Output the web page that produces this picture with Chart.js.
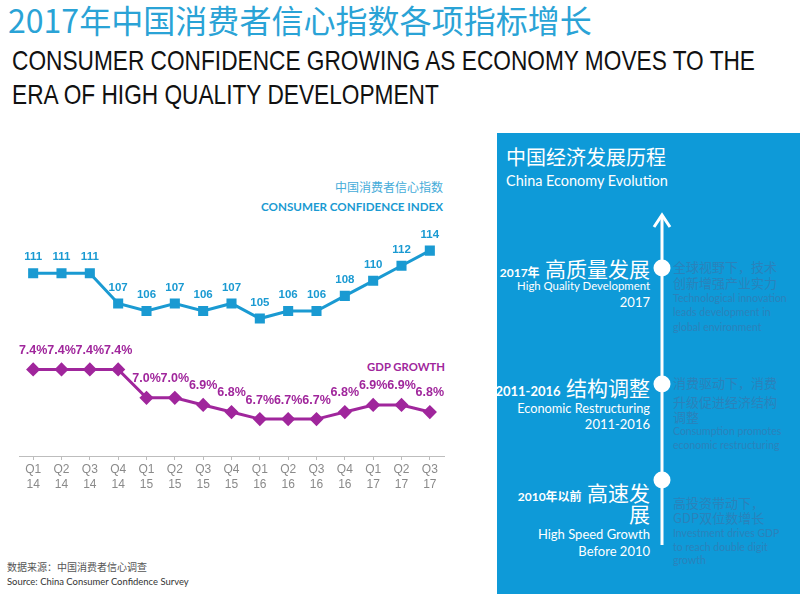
<!DOCTYPE html>
<html>
<head>
<meta charset="utf-8">
<script src="https://cdn.jsdelivr.net/npm/chart.js@4.4.1/dist/chart.umd.min.js"></script>
<style>
  html, body { margin: 0; padding: 0; background: #fff; }
  body { width: 800px; height: 594px; position: relative; overflow: hidden; font-family: Lato, "Noto Sans CJK SC", sans-serif; }
  .t { position: absolute; white-space: nowrap; }
  .cn { font-family: "Noto Sans CJK SC", sans-serif; }
  .en { font-family: "Liberation Sans", Arial, sans-serif; transform-origin: 0 50%; }
  #chartBox { position: absolute; left: 0; top: 150px; width: 460px; height: 350px; }
  #panel { position: absolute; left: 497px; top: 133px; width: 303px; height: 461px; background: #0e9ad8; }
  .w { color: #fff; }
  .faint { color: #2a82bb; }
  .fe { font-size: 10.5px; line-height: 14px; }
</style>
</head>
<body>
<!-- titles -->
<div class="t cn" data-w="584" style="left:8px;top:1px;font-size:30px;line-height:36px;color:#2aa3d6;">2017年中国消费者信心指数各项指标增长</div>
<div class="t en" id="en1" style="left:12px;top:44px;font-size:28px;line-height:34px;color:#111;">CONSUMER CONFIDENCE GROWING AS ECONOMY MOVES TO THE</div>
<div class="t en" id="en2" style="left:12px;top:78px;font-size:28px;line-height:34px;color:#111;">ERA OF HIGH QUALITY DEVELOPMENT</div>

<!-- chart side labels -->
<div class="t cn" style="right:357px;top:179px;font-size:12px;line-height:16px;color:#45acd9;">中国消费者信心指数</div>
<div class="t" data-w="182" style="right:357px;top:199px;font-size:12px;line-height:16px;color:#1a9ad2;font-weight:bold;">CONSUMER CONFIDENCE INDEX</div>
<div class="t" data-w="78" style="right:355px;top:359px;font-size:12px;line-height:16px;color:#a0269c;font-weight:bold;">GDP GROWTH</div>

<div id="chartBox"><canvas id="myChart"></canvas></div>

<!-- source -->
<div class="t cn" style="left:7px;top:560px;font-size:10px;line-height:14px;color:#555;">数据来源：中国消费者信心调查</div>
<div class="t" data-w="182" style="left:7px;top:575px;font-size:10px;line-height:14px;color:#333;">Source: China Consumer Confidence Survey</div>

<!-- right panel -->
<div id="panel">
  <svg width="303" height="461" style="position:absolute;left:0;top:0;">
    <line x1="165" y1="83" x2="165" y2="412" stroke="#fff" stroke-width="3"/>
    <polyline points="157,94 165,82 173,94" fill="none" stroke="#fff" stroke-width="3" stroke-linejoin="miter"/>
    <circle cx="165" cy="135" r="8.5" fill="#fff"/>
    <circle cx="165" cy="251" r="8.5" fill="#fff"/>
    <circle cx="165" cy="347" r="8.5" fill="#fff"/>
  </svg>
</div>
<div class="t cn w" style="left:506px;top:145px;font-size:20px;line-height:24px;">中国经济发展历程</div>
<div class="t w" data-w="162" style="left:506px;top:172px;font-size:14px;line-height:18px;">China Economy Evolution</div>

<div class="t w" style="right:150px;top:254px;font-size:21px;line-height:28px;"><span style="font-size:12px;font-weight:bold;">2017<span class="cn">年</span></span> <span class="cn">高质量发展</span></div>
<div class="t w" data-w="133" style="right:150px;top:278px;font-size:13px;line-height:16px;">High Quality Development</div>
<div class="t w" style="right:150px;top:294px;font-size:13px;line-height:16px;">2017</div>

<div class="t w" style="right:150px;top:373px;font-size:21px;line-height:28px;"><span style="font-size:13px;font-weight:bold;">2011-2016</span> <span class="cn">结构调整</span></div>
<div class="t w" data-w="133" style="right:150px;top:400px;font-size:13px;line-height:16px;">Economic Restructuring</div>
<div class="t w" style="right:150px;top:416px;font-size:13px;line-height:16px;">2011-2016</div>

<div class="t w" style="right:150px;top:478px;font-size:21px;line-height:28px;"><span style="font-size:12px;font-weight:bold;">2010<span class="cn">年以前</span></span> <span class="cn">高速发</span></div>
<div class="t w cn" style="right:150px;top:499px;font-size:21px;line-height:28px;">展</div>
<div class="t w" style="right:150px;top:526px;font-size:13px;line-height:16px;">High Speed Growth</div>
<div class="t w" style="right:150px;top:543px;font-size:13px;line-height:16px;">Before 2010</div>

<div class="t cn faint" style="left:673px;top:258px;font-size:13px;line-height:18px;">全球视野下，技术</div>
<div class="t cn faint" style="left:673px;top:274px;font-size:13px;line-height:18px;">创新增强产业实力</div>
<div class="t faint fe" style="left:673px;top:291px;">Technological innovation</div>
<div class="t faint fe" style="left:673px;top:305px;">leads development in</div>
<div class="t faint fe" style="left:673px;top:320px;">global environment</div>

<div class="t cn faint" style="left:673px;top:374px;font-size:13px;line-height:18px;">消费驱动下，消费</div>
<div class="t cn faint" style="left:673px;top:393px;font-size:13px;line-height:18px;">升级促进经济结构</div>
<div class="t cn faint" style="left:673px;top:408px;font-size:13px;line-height:18px;">调整</div>
<div class="t faint fe" style="left:673px;top:424px;">Consumption promotes</div>
<div class="t faint fe" style="left:673px;top:438px;">economic restructuring</div>

<div class="t cn faint" style="left:673px;top:494px;font-size:13px;line-height:18px;">高投资带动下，</div>
<div class="t cn faint" style="left:673px;top:509px;font-size:13px;line-height:18px;">GDP双位数增长</div>
<div class="t faint fe" style="left:673px;top:526px;">Investment drives GDP</div>
<div class="t faint fe" style="left:673px;top:540px;">to reach double digit</div>
<div class="t faint fe" style="left:673px;top:553px;">growth</div>

<script>
// data
const quarters = [['Q1','14'],['Q2','14'],['Q3','14'],['Q4','14'],['Q1','15'],['Q2','15'],['Q3','15'],['Q4','15'],
                  ['Q1','16'],['Q2','16'],['Q3','16'],['Q4','16'],['Q1','17'],['Q2','17'],['Q3','17']];
const cciValues = [111, 111, 111, 107, 106, 107, 106, 107, 105, 106, 106, 108, 110, 112, 114];
const gdpValues = [7.4, 7.4, 7.4, 7.4, 7.0, 7.0, 6.9, 6.8, 6.7, 6.7, 6.7, 6.8, 6.9, 6.9, 6.8];

// fit some texts to the width they have in the picture
document.querySelectorAll('[data-w]').forEach(el => {
    const w = el.getBoundingClientRect().width;
    const fs = parseFloat(getComputedStyle(el).fontSize);
    el.style.fontSize = (fs * parseFloat(el.dataset.w) / w) + 'px';
});
// the english title is a condensed face, so squeeze it sideways
const en1 = document.getElementById('en1');
const sx = 743 / en1.getBoundingClientRect().width;
en1.style.transform = 'scaleX(' + sx + ')';
document.getElementById('en2').style.transform = 'scaleX(' + sx + ')';

// draws the value above every point
const valueLabels = {
    id: 'valueLabels',
    afterDatasetsDraw(chart) {
        const ctx = chart.ctx;
        chart.data.datasets.forEach((ds, i) => {
            const meta = chart.getDatasetMeta(i);
            ctx.save();
            ctx.font = ds.labelFont;
            ctx.fillStyle = ds.borderColor;
            ctx.textAlign = 'center';
            ctx.textBaseline = 'middle';
            meta.data.forEach((pt, j) => {
                ctx.fillText(ds.fmt(ds.data[j]), pt.x, pt.y - ds.labelGap);
            });
            ctx.restore();
        });
    }
};

const ctx = document.getElementById('myChart');

new Chart(ctx, {
    type: 'line',
    data: {
        labels: quarters,
        datasets: [{
            label: 'Consumer Confidence Index',
            data: cciValues,
            yAxisID: 'y',
            borderColor: '#1a9ad2',
            backgroundColor: '#1a9ad2',
            borderWidth: 3,
            pointStyle: 'rect',
            pointRadius: 5,
            tension: 0,
            labelFont: 'bold 11.5px "Liberation Sans", Arial, sans-serif',
            labelGap: 16,
            fmt: v => String(v)
        }, {
            label: 'GDP Growth',
            data: gdpValues,
            yAxisID: 'y1',
            borderColor: '#a0269c',
            backgroundColor: '#a0269c',
            borderWidth: 3,
            pointStyle: 'rectRot',
            pointRadius: 5,
            tension: 0,
            labelFont: 'bold 12.5px "Liberation Sans", Arial, sans-serif',
            labelGap: 19,
            fmt: v => v.toFixed(1) + '%'
        }]
    },
    options: {
        responsive: true,
        maintainAspectRatio: false,
        animation: false,
        layout: { padding: { top: 50, left: 19, right: 16, bottom: 6 } },
        plugins: { legend: { display: false }, tooltip: { enabled: false } },
        scales: {
            x: {
                offset: true,
                border: { color: '#bdbdbd', width: 1 },
                grid: { drawOnChartArea: false, tickLength: 4, color: '#bdbdbd' },
                ticks: {
                    color: '#8a8a8a',
                    padding: 2,
                    maxRotation: 0,
                    autoSkip: false,
                    font: { family: '"Liberation Sans", Arial, sans-serif', size: 12, lineHeight: 1.25 }
                }
            },
            y: { display: false, min: 86.8, max: 120.7 },
            y1: { display: false, min: 6.18, max: 9.79 }
        }
    },
    plugins: [valueLabels]
});
</script>
</body>
</html>
